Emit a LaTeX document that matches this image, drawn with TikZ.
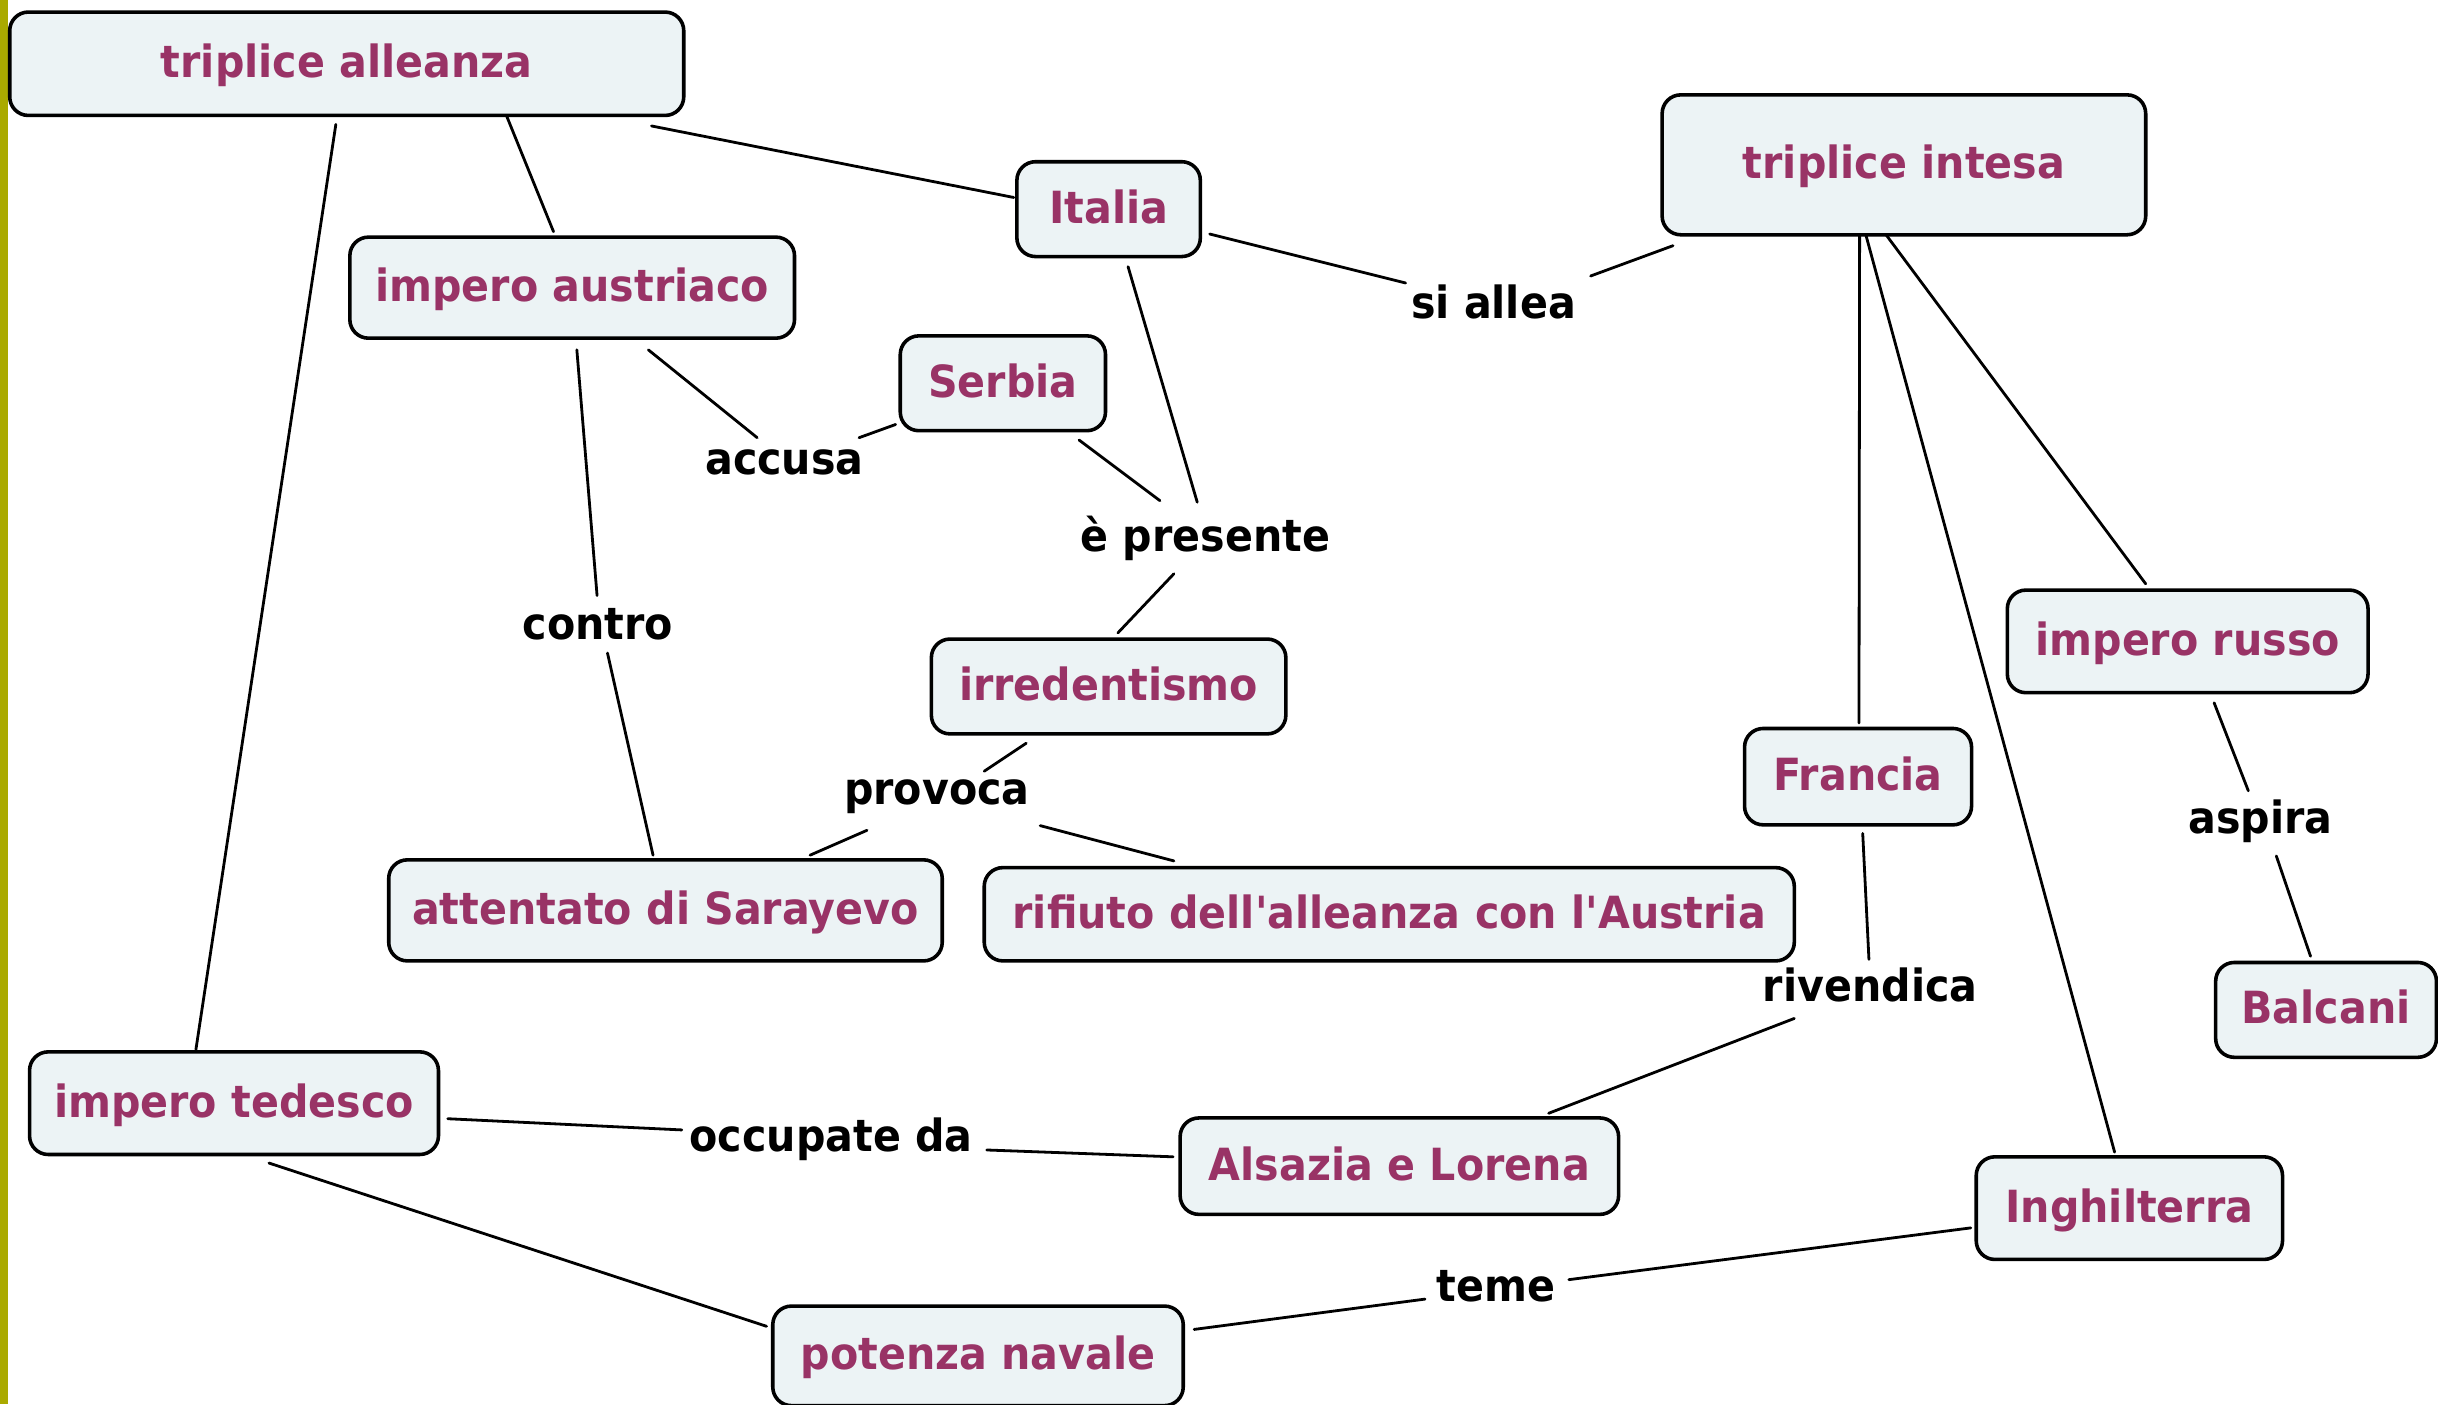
\documentclass[tikz,border=0pt]{standalone}
\usepackage{fontspec}
\newfontfamily\cmfont{DejaVu Sans}[FakeStretch=0.93,Ligatures=TeXOff]
\newcommand{\cmf}{\cmfont\bfseries\fontsize{28.5}{30}\selectfont}
\definecolor{boxfill}{RGB}{236,243,245}
\definecolor{txtpurple}{RGB}{153,51,102}
\definecolor{barcol}{RGB}{170,170,0}
\tikzset{
  concept/.style={draw=black, line width=2.3pt, rounded corners=12pt, fill=boxfill,
    text=txtpurple, font=\cmf, inner sep=0pt, text height=22pt, text depth=4pt},
  linkw/.style={font=\cmf, text=black, inner sep=0pt, anchor=base},
  conn/.style={line width=1.8pt, line cap=round}
}
\begin{document}
\begin{tikzpicture}[x=1pt,y=-1pt]
\useasboundingbox (0,0) rectangle (1568,903);
\fill[white] (0,0) rectangle (1568,903);
\fill[barcol] (0,0) rectangle (5,903);

% concepts
\node[concept, minimum width=433.5pt, minimum height=66.5pt] (ta) at (223,41) {triplice alleanza};
\node[concept, minimum width=118pt, minimum height=61pt] (it) at (713,134.5) {Italia};
\node[concept, minimum width=311pt, minimum height=90pt] (ti) at (1224.5,106) {triplice intesa};
\node[concept, minimum width=286pt, minimum height=65pt] (ia) at (368,185) {impero austriaco};
\node[concept, minimum width=132pt, minimum height=61pt] (se) at (645,246.5) {Serbia};
\node[concept, minimum width=228pt, minimum height=61pt] (ir) at (713,441.5) {irredentismo};
\node[concept, minimum width=232pt, minimum height=66pt] (ru) at (1407,412.5) {impero russo};
\node[concept, minimum width=146pt, minimum height=62pt] (fr) at (1195,499.5) {Francia};
\node[concept, minimum width=356pt, minimum height=65pt] (at) at (428,585.5) {attentato di Sarayevo};
\node[concept, minimum width=521pt, minimum height=60pt] (rf) at (893.5,588) {rifiuto dell'alleanza con l'Austria};
\node[concept, minimum width=142pt, minimum height=61pt] (ba) at (1496,649.5) {Balcani};
\node[concept, minimum width=263pt, minimum height=66pt] (te) at (150.5,709.5) {impero tedesco};
\node[concept, minimum width=282pt, minimum height=62pt] (al) at (900,750) {Alsazia e Lorena};
\node[concept, minimum width=197pt, minimum height=66pt] (ig) at (1369.5,777) {Inghilterra};
\node[concept, minimum width=264pt, minimum height=64pt] (pn) at (629,872) {potenza navale};

% linking words
\node[linkw] (sa) at (960.5,204.6) {si allea};
\node[linkw] (ep) at (775.3,355) {è presente};
\node[linkw] (ac) at (504.5,305) {accusa};
\node[linkw] (co) at (384.5,411.6) {contro};
\node[linkw] (pr) at (602.5,517.7) {provoca};
\node[linkw] (rv) at (1202.8,644) {rivendica};
\node[linkw] (as) at (1453.8,535.8) {aspira};
\node[linkw] (oc) at (534.5,740.6) {occupate da};
\node[linkw] (tm) at (962,837) {teme};

% connectors
\draw[conn] ([shift={(196,40)}]ta.center) -- ([shift={(-61,-7.5)}]it.center);
\draw[conn] ([shift={(65,16)}]it.center) -- ([shift={(-56.5,-22.6)}]sa.base);
\draw[conn] ([shift={(62.5,-27.1)}]sa.base) -- ([shift={(-148.5,52)}]ti.center);
\draw[conn] ([shift={(103,34)}]ta.center) -- ([shift={(-12,-36)}]ia.center);
\draw[conn] ([shift={(-7,39)}]ta.center) -- ([shift={(-24.5,-34.5)}]te.center);
\draw[conn] ([shift={(49,40)}]ia.center) -- ([shift={(-17.5,-23.5)}]ac.base);
\draw[conn] ([shift={(48,-23.5)}]ac.base) -- ([shift={(-69,26.5)}]se.center);
\draw[conn] ([shift={(49,36.5)}]se.center) -- ([shift={(-29.3,-33)}]ep.base);
\draw[conn] ([shift={(12.5,37)}]it.center) -- ([shift={(-5.3,-32)}]ep.base);
\draw[conn] ([shift={(-20.3,14)}]ep.base) -- ([shift={(6,-34.5)}]ir.center);
\draw[conn] ([shift={(3,40)}]ia.center) -- ([shift={(-0.5,-28.6)}]co.base);
\draw[conn] ([shift={(6.2,8.4)}]co.base) -- ([shift={(-8,-35.5)}]at.center);
\draw[conn] ([shift={(-53,36.5)}]ir.center) -- ([shift={(30.5,-21.7)}]pr.base);
\draw[conn] ([shift={(-44.9,16.3)}]pr.base) -- ([shift={(93,-35.5)}]at.center);
\draw[conn] ([shift={(66.5,13.3)}]pr.base) -- ([shift={(-138.5,-34.3)}]rf.center);
\draw[conn] ([shift={(-28.5,45)}]ti.center) -- ([shift={(0.6,-34.5)}]fr.center);
\draw[conn] ([shift={(-24.5,45)}]ti.center) -- ([shift={(-9.5,-36)}]ig.center);
\draw[conn] ([shift={(-11.5,45)}]ti.center) -- ([shift={(-27,-37)}]ru.center);
\draw[conn] ([shift={(17,39.5)}]ru.center) -- ([shift={(-7.8,-27.2)}]as.base);
\draw[conn] ([shift={(10.2,14.7)}]as.base) -- ([shift={(-10,-34.5)}]ba.center);
\draw[conn] ([shift={(3,36.5)}]fr.center) -- ([shift={(-0.8,-27)}]rv.base);
\draw[conn] ([shift={(-48.8,11)}]rv.base) -- ([shift={(96,-34)}]al.center);
\draw[conn] ([shift={(137.5,10)}]te.center) -- ([shift={(-96,-13.9)}]oc.base);
\draw[conn] ([shift={(100.1,-1)}]oc.base) -- ([shift={(-145.5,-6)}]al.center);
\draw[conn] ([shift={(22.5,38.5)}]te.center) -- ([shift={(-136,-19)}]pn.center);
\draw[conn] ([shift={(139,-17)}]pn.center) -- ([shift={(-45.5,-1.5)}]tm.base);
\draw[conn] ([shift={(47,-14)}]tm.base) -- ([shift={(-102,12.7)}]ig.center);
\end{tikzpicture}
\end{document}
